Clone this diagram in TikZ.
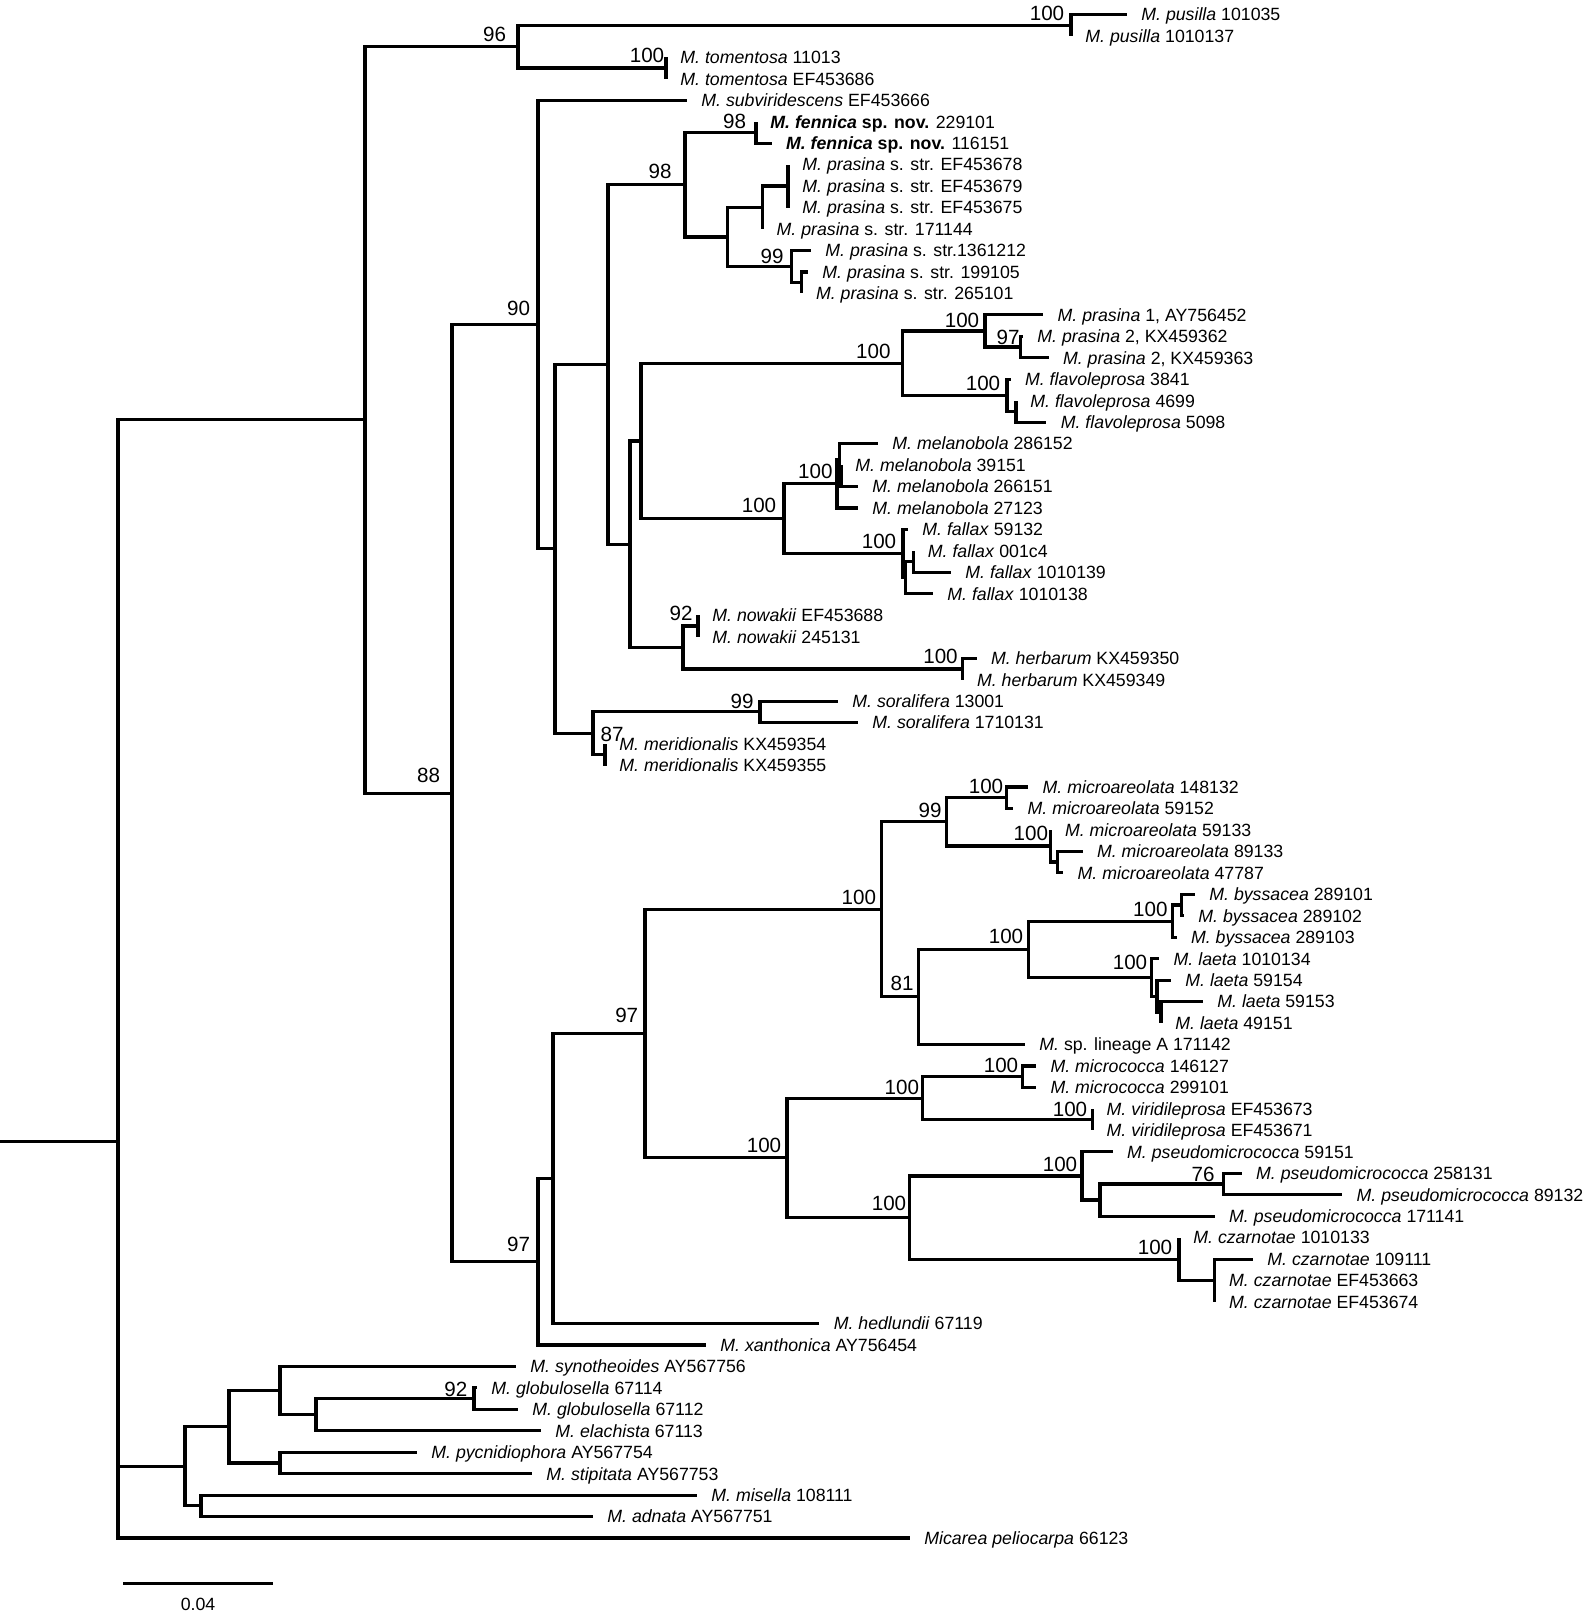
\documentclass[tikz,border=0pt]{standalone}
\usepackage{fontspec}
\setmainfont{Liberation Sans}
\usetikzlibrary{calc}

\tikzset{
  branch/.style={line width=1.6pt},
  fork/.style={inner sep=0pt, outer sep=0pt, minimum size=0pt},
  leaf/.style={anchor=west, inner xsep=7.2pt, inner ysep=0pt, outer sep=0pt,
    text height=7.1pt, text depth=0.75pt, font=\fontsize{8.86}{10}\selectfont},
  bs/.style={inner sep=0pt, font=\fontsize{10.3}{12}\selectfont},
}

\begin{document}
\begin{tikzpicture}[x=0.5pt, y=-10.73pt]
  \useasboundingbox (0,0.329) rectangle (1587,75.445);

  % internal nodes: x in px, y in leaf rows
  \node[fork] (R0) at (118,53.517) {};
  \node[fork] (CA) at (365,19.894) {};
  \node[fork] (N96) at (518,2.5) {};
  \node[fork] (P) at (1071,1.5) {};
  \node[fork] (T) at (666,3.5) {};
  \node[fork] (N88) at (452,37.288) {};
  \node[fork] (N90) at (538,15.453) {};
  \node[fork] (Q) at (555,25.906) {};
  \node[fork] (R) at (608,17.313) {};
  \node[fork] (N98a) at (685,8.938) {};
  \node[fork] (F) at (756,6.5) {};
  \node[fork] (G1) at (727.5,11.375) {};
  \node[fork] (G2) at (762.3,10) {};
  \node[fork] (G3) at (788,9) {};
  \node[fork] (N99a) at (791.7,12.75) {};
  \node[fork] (G4) at (801.7,13.5) {};
  \node[fork] (AE) at (630,25.688) {};
  \node[fork] (AI) at (641,20.875) {};
  \node[fork] (V) at (902.7,17.25) {};
  \node[fork] (W) at (985,15.75) {};
  \node[fork] (X) at (1020.5,16.5) {};
  \node[fork] (Y) at (1007,18.75) {};
  \node[fork] (Y2) at (1016,19.5) {};
  \node[fork] (Z) at (784,24.5) {};
  \node[fork] (AA) at (837,22.875) {};
  \node[fork] (AB) at (839.5,21.75) {};
  \node[fork] (AC) at (841,22.5) {};
  \node[fork] (AD) at (903,26.125) {};
  \node[fork] (AG) at (905.5,27.25) {};
  \node[fork] (AH) at (913.5,26.5) {};
  \node[fork] (AF) at (683,30.5) {};
  \node[fork] (NW) at (698,29.5) {};
  \node[fork] (H) at (962.7,31.5) {};
  \node[fork] (S) at (593,34.5) {};
  \node[fork] (SO) at (760,33.5) {};
  \node[fork] (ME) at (605,35.5) {};
  \node[fork] (BA) at (538,59.123) {};
  \node[fork] (BB) at (553,55.246) {};
  \node[fork] (BC) at (645,48.492) {};
  \node[fork] (BD) at (881.7,42.703) {};
  \node[fork] (BM) at (946.7,38.625) {};
  \node[fork] (BN) at (1006.7,37.5) {};
  \node[fork] (BO) at (1050.7,39.75) {};
  \node[fork] (BP) at (1057.3,40.5) {};
  \node[fork] (BQ) at (918.3,46.781) {};
  \node[fork] (BR) at (1028.3,44.563) {};
  \node[fork] (BS) at (1172.3,43.25) {};
  \node[fork] (BT) at (1181.7,42.5) {};
  \node[fork] (BU) at (1151.7,45.875) {};
  \node[fork] (BV) at (1157,46.75) {};
  \node[fork] (BX) at (1161,47.5) {};
  \node[fork] (BE) at (787,54.281) {};
  \node[fork] (BF) at (922.4,51.5) {};
  \node[fork] (BY) at (1022.4,50.5) {};
  \node[fork] (BZ) at (1092.3,52.5) {};
  \node[fork] (BG) at (909.7,57.063) {};
  \node[fork] (BH) at (1082,55.125) {};
  \node[fork] (BI) at (1100,56.25) {};
  \node[fork] (BJ) at (1223.5,55.5) {};
  \node[fork] (BK) at (1179,59) {};
  \node[fork] (BL) at (1214.8,60) {};
  \node[fork] (OG) at (185,68.656) {};
  \node[fork] (C1) at (229,66.813) {};
  \node[fork] (C3) at (280,65.125) {};
  \node[fork] (C4) at (316,66.25) {};
  \node[fork] (C6) at (474,65.5) {};
  \node[fork] (C5) at (280,68.5) {};
  \node[fork] (C2) at (201,70.5) {};

  % taxa
  \foreach \tx/\lab [count=\i] in {
    1127/{\textit{M. pusilla} 101035},
    1071/{\textit{M. pusilla} 1010137},
    666/{\textit{M. tomentosa} 11013},
    666/{\textit{M. tomentosa} EF453686},
    687/{\textit{M. subviridescens} EF453666},
    756/{\textbf{\textit{M. fennica} sp. nov.} 229101},
    771.7/{\textbf{\textit{M. fennica} sp. nov.} 116151},
    788/{\textit{M. prasina} s. str. EF453678},
    788/{\textit{M. prasina} s. str. EF453679},
    788/{\textit{M. prasina} s. str. EF453675},
    762.3/{\textit{M. prasina} s. str. 171144},
    811/{\textit{M. prasina} s. str.1361212},
    808/{\textit{M. prasina} s. str. 199105},
    801.7/{\textit{M. prasina} s. str. 265101},
    1043.3/{\textit{M. prasina} 1, AY756452},
    1023/{\textit{M. prasina} 2, KX459362},
    1048.7/{\textit{M. prasina} 2, KX459363},
    1010.7/{\textit{M. flavoleprosa} 3841},
    1016/{\textit{M. flavoleprosa} 4699},
    1046.4/{\textit{M. flavoleprosa} 5098},
    878/{\textit{M. melanobola} 286152},
    841/{\textit{M. melanobola} 39151},
    858/{\textit{M. melanobola} 266151},
    858/{\textit{M. melanobola} 27123},
    908/{\textit{M. fallax} 59132},
    913.5/{\textit{M. fallax} 001c4},
    951/{\textit{M. fallax} 1010139},
    933/{\textit{M. fallax} 1010138},
    698/{\textit{M. nowakii} EF453688},
    698/{\textit{M. nowakii} 245131},
    976.7/{\textit{M. herbarum} KX459350},
    962.7/{\textit{M. herbarum} KX459349},
    838/{\textit{M. soralifera} 13001},
    858/{\textit{M. soralifera} 1710131},
    605/{\textit{M. meridionalis} KX459354},
    605/{\textit{M. meridionalis} KX459355},
    1028.3/{\textit{M. microareolata} 148132},
    1013.3/{\textit{M. microareolata} 59152},
    1050.7/{\textit{M. microareolata} 59133},
    1082.7/{\textit{M. microareolata} 89133},
    1063.3/{\textit{M. microareolata} 47787},
    1195/{\textit{M. byssacea} 289101},
    1184/{\textit{M. byssacea} 289102},
    1176.7/{\textit{M. byssacea} 289103},
    1159.3/{\textit{M. laeta} 1010134},
    1171/{\textit{M. laeta} 59154},
    1203/{\textit{M. laeta} 59153},
    1161/{\textit{M. laeta} 49151},
    1025/{\textit{M.} sp. lineage A 171142},
    1036.2/{\textit{M. micrococca} 146127},
    1036.2/{\textit{M. micrococca} 299101},
    1092.3/{\textit{M. viridileprosa} EF453673},
    1092.3/{\textit{M. viridileprosa} EF453671},
    1112.8/{\textit{M. pseudomicrococca} 59151},
    1241.8/{\textit{M. pseudomicrococca} 258131},
    1342.3/{\textit{M. pseudomicrococca} 89132},
    1214.8/{\textit{M. pseudomicrococca} 171141},
    1179/{\textit{M. czarnotae} 1010133},
    1253/{\textit{M. czarnotae} 109111},
    1214.8/{\textit{M. czarnotae} EF453663},
    1214.8/{\textit{M. czarnotae} EF453674},
    819.4/{\textit{M. hedlundii} 67119},
    706/{\textit{M. xanthonica} AY756454},
    516/{\textit{M. synotheoides} AY567756},
    477/{\textit{M. globulosella} 67114},
    518/{\textit{M. globulosella} 67112},
    541/{\textit{M. elachista} 67113},
    417/{\textit{M. pycnidiophora} AY567754},
    532/{\textit{M. stipitata} AY567753},
    697/{\textit{M. misella} 108111},
    593/{\textit{M. adnata} AY567751},
    910/{\textit{Micarea peliocarpa} 66123}}
    \node[leaf] (l\i) at (\tx,\i) {\lab};

  % branches
  \coordinate (base) at (0,53.517);
  \draw[branch] (base) -- (R0);
  \foreach \p/\c in {R0/CA, R0/OG, R0/l72, CA/N96, CA/N88, N96/P, N96/T,
      P/l1, P/l2, T/l3, T/l4, N88/N90, N88/BA, N90/l5, N90/Q, Q/R, Q/S,
      R/N98a, R/AE, N98a/F, N98a/G1, F/l6, F/l7, G1/G2, G1/N99a, G2/G3, G2/l11,
      G3/l8, G3/l9, G3/l10, N99a/l12, N99a/G4, G4/l13, G4/l14,
      AE/AI, AE/AF, AI/V, AI/Z, V/W, V/Y, W/l15, W/X, X/l16, X/l17,
      Y/l18, Y/Y2, Y2/l19, Y2/l20, Z/AA, Z/AD, AA/AB, AA/l24, AB/l21, AB/AC,
      AC/l22, AC/l23, AD/l25, AD/AG, AG/AH, AG/l28, AH/l26, AH/l27,
      AF/NW, AF/H, NW/l29, NW/l30, H/l31, H/l32, S/SO, S/ME, SO/l33, SO/l34,
      ME/l35, ME/l36, BA/BB, BA/l63, BB/BC, BB/l62, BC/BD, BC/BE,
      BD/BM, BD/BQ, BM/BN, BM/BO, BN/l37, BN/l38, BO/l39, BO/BP, BP/l40, BP/l41,
      BQ/BR, BQ/l49, BR/BS, BR/BU, BS/BT, BS/l44, BT/l42, BT/l43,
      BU/l45, BU/BV, BV/l46, BV/BX, BX/l47, BX/l48,
      BE/BF, BE/BG, BF/BY, BF/BZ, BY/l50, BY/l51, BZ/l52, BZ/l53,
      BG/BH, BG/BK, BH/l54, BH/BI, BI/BJ, BI/l57, BJ/l55, BJ/l56,
      BK/l58, BK/BL, BL/l59, BL/l60, BL/l61,
      OG/C1, OG/C2, C1/C3, C1/C5, C3/l64, C3/C4, C4/C6, C4/l67, C6/l65, C6/l66,
      C5/l68, C5/l69, C2/l70, C2/l71}
    \draw[branch] (\p) |- (\c.west);

  % bootstrap support
  \foreach \n/\v/\dx/\dy in {N96/96/-11.75/6.3, P/100/-12/6, T/100/-9.5/6.5,
      N90/90/-9.75/8.2, N98a/98/-12.5/6.5, F/98/-10.75/5.3, N99a/99/-9.85/4.9,
      V/100/-14.7/5.9, W/100/-11.5/5.5, X/97/-6.25/5, Y/100/-12/5.9,
      AA/100/-10.8/6.3, Z/100/-12.5/6.6, AD/100/-12/6.2, NW/92/-8.5/6.4,
      H/100/-11.1/6.2, SO/99/-9/5.4, ME/87/3.5/10.2, N88/88/-11.7/9,
      BN/100/-10.35/5.4, BM/99/-8.35/5.9, BO/100/-9.95/6.4, BD/100/-11.45/6.2,
      BQ/81/-8.15/6.6, BS/100/-11/6, BR/100/-11.15/6.2, BU/100/-10.85/7.5,
      BC/97/-9.15/9.3, BF/100/-10.3/5.5, BY/100/-10.7/5.5, BZ/100/-11.15/5,
      BE/100/-11.5/6.4, BH/100/-11/5.9, BJ/76/-10.25/5, BG/100/-10.35/7.2,
      BK/100/-12/5.7, BA/97/-9.75/8.5, C6/92/-9.1/4.4}
    \node[bs] (s\n) at ([xshift=\dx pt, yshift=\dy pt]\n) {\v};

  % scale bar
  \coordinate (sbl) at (123,74.1);
  \coordinate (sbr) at (273,74.1);
  \draw[branch] (sbl) -- (sbr);
  \node[anchor=base, inner sep=0pt, font=\fontsize{8.86}{10}\selectfont] (sbtxt) at (198,75.39) {0.04};
\end{tikzpicture}
\end{document}
